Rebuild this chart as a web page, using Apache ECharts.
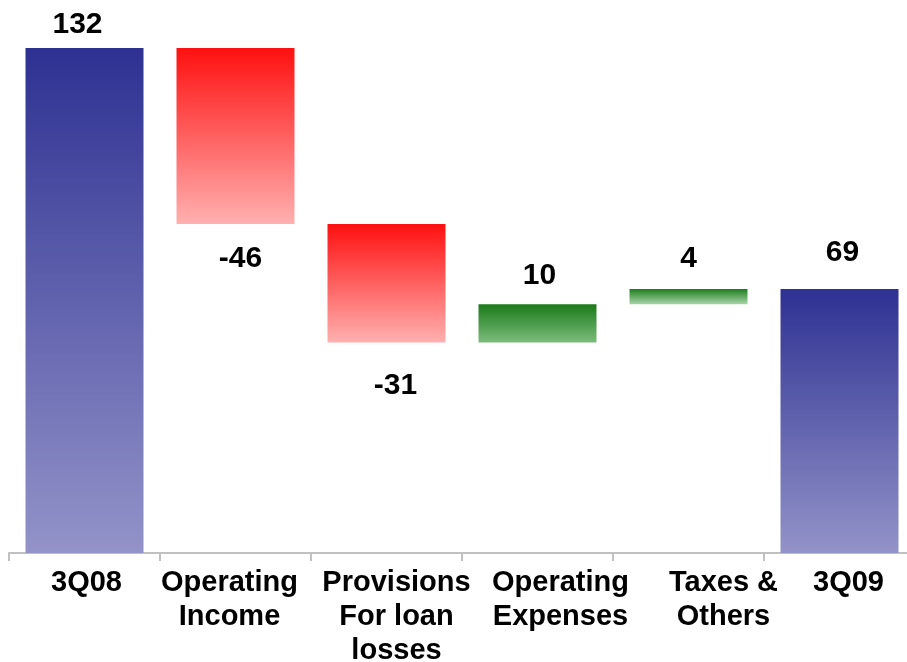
<!DOCTYPE html>
<html>
<head>
<meta charset="utf-8">
<script src="https://cdn.jsdelivr.net/npm/echarts@6/dist/echarts.min.js"></script>
<style>
  html, body { margin: 0; padding: 0; background: #fff; }
  #chart { width: 907px; height: 662px; }
</style>
</head>
<body>
<div id="chart"></div>
<script>
// Net income bridge, 3Q08 -> 3Q09
const categories = ['3Q08', 'Operating\nIncome', 'Provisions\nFor loan\nlosses', 'Operating\nExpenses', 'Taxes &\nOthers', '3Q09'];
const changes = [132, -46, -31, 10, 4, 69];
const isTotal = [true, false, false, false, false, true];

// horizontal nudges (px) for category text and value labels
const catShift = [2, -6, 10, 23, 35, 9];
const valShift = [-7, 5, 9, 2, 0, 3];
const valDist = [8, 20, 28, 14, 15, 21];

// gradient stops per bar kind: [top, bottom]
const blueStops = ['#2e3192', '#9393c9'];
const redStops = ['#ff1010', '#ffb0b0'];
const greenStops = ['#1a7a1a', '#7cbc7c'];
const greenSmallStops = ['#1e7d1e', '#a9d6a9'];

function grad(stops) {
  return new echarts.graphic.LinearGradient(0, 0, 0, 1, [
    { offset: 0, color: stops[0] },
    { offset: 1, color: stops[1] }
  ]);
}

// running total -> invisible base + visible segment
const baseData = [];
const barData = [];
let running = 0;
changes.forEach((v, i) => {
  let base, h;
  if (isTotal[i]) {
    base = 0; h = v; running = v;
  } else {
    const next = running + v;
    base = Math.min(running, next);
    h = Math.abs(v);
    running = next;
  }
  baseData.push(base);
  const stops = isTotal[i] ? blueStops : (v < 0 ? redStops : (h < 6 ? greenSmallStops : greenStops));
  barData.push({
    value: h,
    signed: v,
    itemStyle: { color: grad(stops) },
    label: { position: v < 0 ? 'bottom' : 'top', distance: valDist[i], offset: [valShift[i], 0] }
  });
});

// one rich style per category so each block can be nudged sideways
const labelFont = {
  color: '#000',
  fontFamily: 'Liberation Sans, Arial, sans-serif',
  fontWeight: 'bold',
  fontSize: 29,
  lineHeight: 34
};
const rich = {};
catShift.forEach((dx, i) => {
  rich['c' + i] = Object.assign({}, labelFont, {
    padding: dx >= 0 ? [0, 0, 0, 2 * dx] : [0, -2 * dx, 0, 0]
  });
});

const chart = echarts.init(document.getElementById('chart'), null, { renderer: 'canvas' });
chart.setOption({
  animation: false,
  backgroundColor: '#ffffff',
  grid: { left: 9, width: 906, top: 48, bottom: 109, containLabel: false, outerBoundsMode: 'none' },
  xAxis: {
    type: 'category',
    data: categories,
    axisLine: { show: true, lineStyle: { color: '#c0c0c0', width: 2 } },
    axisTick: { show: true, length: 8, lineStyle: { color: '#c0c0c0', width: 2 } },
    axisLabel: Object.assign({
      interval: 0,
      margin: 13,
      rich: rich,
      formatter: (val, idx) => val.split('\n').map(line => '{c' + idx + '|' + line + '}').join('\n')
    }, labelFont)
  },
  yAxis: {
    type: 'value',
    min: 0,
    max: 132,
    show: false,
    splitLine: { show: false }
  },
  series: [
    {
      type: 'bar',
      stack: 'w',
      data: baseData,
      itemStyle: { color: 'transparent' },
      barWidth: 118,
      silent: true
    },
    {
      type: 'bar',
      stack: 'w',
      data: barData,
      barWidth: 118,
      label: {
        show: true,
        color: '#000',
        fontFamily: 'Liberation Sans, Arial, sans-serif',
        fontWeight: 'bold',
        fontSize: 30,
        formatter: p => String(p.data.signed)
      }
    }
  ]
});
</script>
</body>
</html>
